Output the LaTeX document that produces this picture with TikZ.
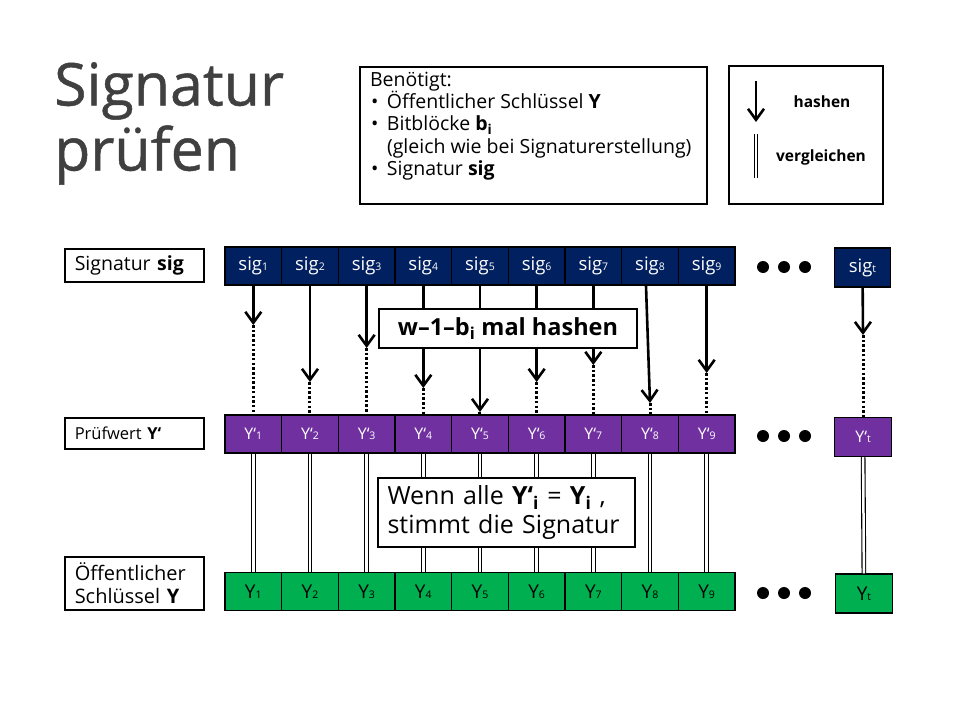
\documentclass[tikz,border=0pt]{standalone}
\usepackage{fontspec}
\setmainfont{Open Sans}
\newfontfamily\titlefont[FakeBold=0.8]{Open Sans}
\usetikzlibrary{arrows.meta}
\definecolor{sigblue}{HTML}{002060}
\definecolor{checkviolet}{HTML}{7030A0}
\definecolor{keygreen}{HTML}{00B050}
\definecolor{titlegray}{HTML}{404040}
\newcommand{\subdig}[1]{{\fontsize{10.5}{10.5}\selectfont #1}}
\tikzset{
    rowbox/.style={draw=black, line width=1.2pt, minimum width=56.67pt, minimum height=38pt, inner sep=0pt},
    sigbox/.style={rowbox, fill=sigblue, text=white, font=\fontsize{18.5}{18.5}\selectfont},
    checkbox/.style={rowbox, fill=checkviolet, text=white, font=\fontsize{16}{16}\selectfont},
    keybox/.style={rowbox, fill=keygreen, text=black, font=\fontsize{19}{19}\selectfont},
    labelbox/.style={draw, line width=1.5pt, anchor=west, inner xsep=10pt, inner ysep=0pt, text width=119pt, align=left},
    infobox/.style={draw, line width=2pt, fill=white},
    bigdot/.style={circle, fill=black, minimum size=12pt, inner sep=0pt},
    hashline/.style={-{Straight Barb[length=11pt, width=16pt]}, line width=2.6pt},
    dotline/.style={line width=3pt, dash pattern=on 2.5pt off 2.2pt},
    cmpline/.style={double=white, double distance=2.5pt, line width=1.1pt}
}

\begin{document}
\begin{tikzpicture}[x=1pt, y=-1pt]
  \path[use as bounding box, fill=white] (0,0) rectangle (960,720);

  \node(T)[anchor=north west, inner sep=0pt, align=left, text=titlegray,
    font=\titlefont\fontsize{59}{65}\selectfont] at (54,62) {Signatur\\prüfen};

  % legend boxes
  \node(N)[infobox, anchor=north west, inner xsep=10pt, inner ysep=5pt] at (359,66)
    {\begin{minipage}[t][127pt][t]{327pt}\fontsize{19.5}{22.3}\selectfont
     Benötigt:\\
     \makebox[17pt][l]{\hspace{1pt}\textbullet}Öffentlicher Schlüssel \textbf{Y}\\
     \makebox[17pt][l]{\hspace{1pt}\textbullet}Bitblöcke \textbf{b\textsubscript{i}}\\
     \hspace*{17pt}(gleich wie bei Signaturerstellung)\\
     \makebox[17pt][l]{\hspace{1pt}\textbullet}Signatur \textbf{sig}
     \end{minipage}};
  \node(L)[infobox, anchor=north west, minimum width=154pt, minimum height=138pt] at (728,65) {};
  \coordinate(LA) at (756,81);
  \coordinate(LB) at (756,122);
  \coordinate(LC) at (756,134);
  \coordinate(LD) at (756,178);
  \draw[hashline](LA)--(LB);
  \draw[cmpline](LC)--(LD);
  \node(LH)[font=\bfseries\fontsize{15.5}{15.5}\selectfont] at (822,102) {hashen};
  \node(LV)[font=\bfseries\fontsize{15.5}{15.5}\selectfont] at (821,157) {vergleichen};

  % row labels
  \node(RS)[labelbox, minimum height=33pt, font=\fontsize{19.5}{22}\selectfont] at (64,265.5) {Signatur \textbf{sig}};
  \node(RP)[labelbox, minimum height=31pt, font=\fontsize{16.5}{20}\selectfont] at (64,433.5) {Prüfwert \textbf{Y‘}};
  \node(RY)[labelbox, minimum height=53pt, font=\fontsize{20}{23}\selectfont] at (64,583.5) {Öffentlicher\\Schlüssel \textbf{Y}};

  % rows
  \foreach \i [evaluate=\i as \cx using 253.3+(\i-1)*56.67] in {1,...,9}{
    \node(s\i)[sigbox] at (\cx,266) {sig\subdig{\i}};
    \node(p\i)[checkbox] at (\cx,434) {Y‘\subdig{\i}};
    \node(y\i)[keybox] at (\cx,591.5) {Y\subdig{\i}};
  }
  \node(st)[sigbox, minimum height=39pt] at (862.5,267.5) {sig\subdig{t}};
  \node(pt)[checkbox, minimum height=39pt] at (863,437) {Y‘\subdig{t}};
  \node(yt)[keybox, minimum height=39pt] at (864,593.5) {Y\subdig{t}};

  \foreach \r/\ry in {s/267, p/436, y/593}
    \foreach \k/\kx in {1/763, 2/784, 3/805}
      \node(d\r\k)[bigdot] at (\kx,\ry) {};

  % hashing
  \foreach \i/\ty/\dx [evaluate=\i as \cx using 253.3+(\i-1)*56.67] in
      {1/325/0, 2/382/0, 3/348/0, 4/388/0, 5/412/0, 6/382/0, 7/365/0, 8/403/-4, 9/373/0}{
    \coordinate(h\i) at (\cx,\ty);
    \draw[hashline]([xshift=\dx pt]s\i.south)--(h\i);
    \draw[dotline](h\i)--(p\i.north);
  }
  \coordinate(ht) at (863,335);
  \draw[hashline](st)--(ht);
  \draw[dotline](ht)--(pt);

  % comparing
  \foreach \i in {1,...,9}
    \draw[cmpline](p\i)--(y\i);
  \draw[cmpline](pt)--(yt);

  \node(H)[infobox, minimum width=258pt, minimum height=39pt, font=\bfseries\fontsize{23.5}{23.5}\selectfont]
    at (508,328.5) {w–1–b\textsubscript{i} mal hashen};
  \node(C)[infobox, minimum width=257pt, minimum height=69pt, text width=238pt, inner xsep=9pt, align=left,
    font=\fontsize{25}{29}\selectfont] at (506.5,512.5)
    {Wenn alle \textbf{Y‘\textsubscript{i}} = \textbf{Y\textsubscript{i}} ,\\stimmt die Signatur};

\end{tikzpicture}
\end{document}
